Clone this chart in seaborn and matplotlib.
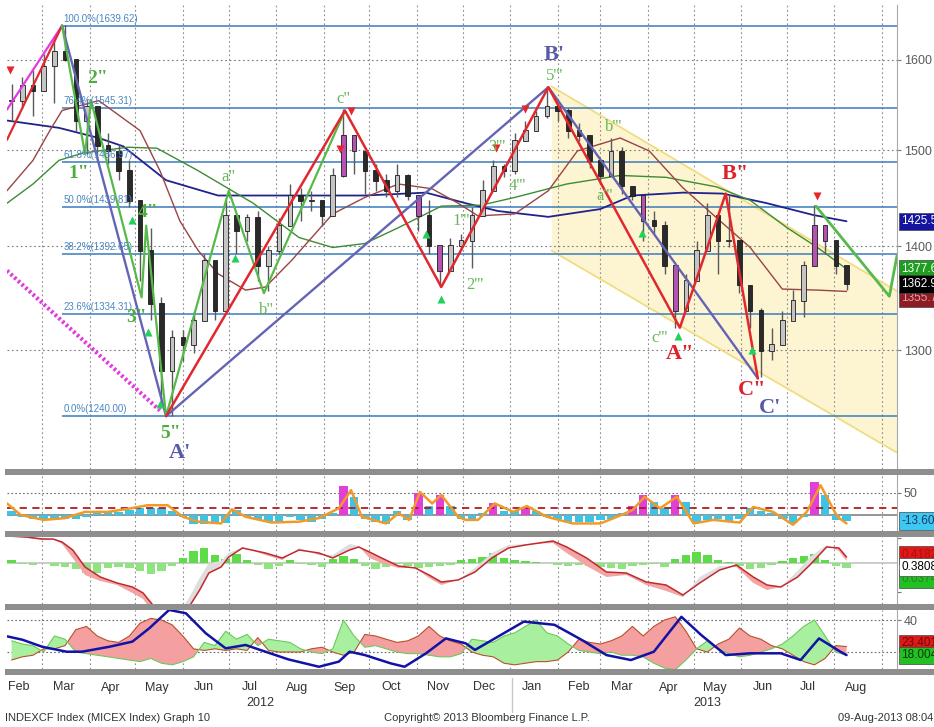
import matplotlib
matplotlib.use("Agg")
import numpy as np
import pandas as pd
import matplotlib.pyplot as plt
from matplotlib.patches import Rectangle
from matplotlib.ticker import NullLocator, NullFormatter
import seaborn as sns

sns.set_style("white")
plt.rcParams["font.family"] = ["Liberation Sans Narrow", "Liberation Sans", "DejaVu Sans"]
SERIF = ["Liberation Serif", "DejaVu Serif"]

### Data ###
week_dates = pd.date_range("2012-02-10", "2013-08-09", freq="W-FRI")

px_high = [1573, 1580, 1588, 1607, 1622, 1640, 1568, 1556, 1548, 1518,
           1507, 1489, 1444, 1419, 1350, 1319, 1319, 1337, 1393, 1366,
           1447, 1433, 1433, 1436, 1400, 1429, 1464, 1460, 1457, 1444,
           1481, 1545, 1513, 1489, 1485, 1475, 1485, 1475, 1444, 1447,
           1399, 1409, 1413, 1440, 1468, 1489, 1485, 1518, 1532, 1543,
           1569, 1550, 1546, 1529, 1513, 1489, 1513, 1503, 1460, 1440,
           1436, 1426, 1369, 1373, 1406, 1444, 1419, 1454, 1396, 1357,
           1340, 1321, 1337, 1357, 1386, 1442, 1419, 1406, 1376]
px_low = [1532, 1546, 1537, 1573, 1551, 1599, 1521, 1496, 1489, 1485,
          1468, 1440, 1366, 1328, 1248, 1240, 1290, 1297, 1363, 1328,
          1347, 1393, 1406, 1366, 1356, 1393, 1440, 1426, 1436, 1421,
          1454, 1471, 1475, 1454, 1457, 1450, 1450, 1447, 1416, 1393,
          1360, 1393, 1396, 1379, 1440, 1468, 1471, 1475, 1510, 1524,
          1535, 1532, 1513, 1510, 1481, 1464, 1489, 1454, 1447, 1406,
          1413, 1373, 1321, 1337, 1373, 1413, 1373, 1399, 1354, 1321,
          1275, 1291, 1306, 1335, 1331, 1399, 1393, 1373, 1357]
px_close = [1554, 1571, 1565, 1593, 1610, 1600, 1532, 1548, 1505, 1499,
            1478, 1447, 1396, 1344, 1281, 1312, 1305, 1328, 1386, 1337,
            1431, 1416, 1429, 1381, 1396, 1421, 1452, 1447, 1447, 1431,
            1473, 1516, 1499, 1478, 1468, 1457, 1473, 1452, 1431, 1401,
            1376, 1401, 1406, 1431, 1457, 1483, 1478, 1510, 1521, 1537,
            1548, 1543, 1521, 1516, 1489, 1473, 1499, 1462, 1452, 1426,
            1421, 1381, 1337, 1366, 1396, 1431, 1406, 1406, 1362, 1337,
            1300, 1305, 1328, 1347, 1381, 1421, 1406, 1381, 1362.96]

ma200_dates = ["2012-02-07", "2012-03-12", "2012-04-07", "2012-04-23", "2012-05-21",
               "2012-06-24", "2012-08-16", "2012-09-28", "2012-11-07", "2012-12-03",
               "2012-12-24", "2013-01-26", "2013-03-01", "2013-03-22", "2013-04-24",
               "2013-05-20", "2013-06-18", "2013-07-18", "2013-08-09"]
ma200 = [1532, 1524, 1513, 1504, 1468, 1452, 1452, 1452, 1455, 1444,
         1436, 1430, 1438, 1452, 1455, 1454, 1444, 1432, 1425.5]

ma100_dates = ["2012-02-07", "2012-02-24", "2012-03-12", "2012-03-28", "2012-04-26",
               "2012-05-15", "2012-06-11", "2012-07-17", "2012-08-16", "2012-09-07",
               "2012-09-28", "2012-10-20", "2012-11-17", "2012-12-13", "2013-01-04",
               "2013-02-07", "2013-03-14", "2013-04-13", "2013-05-16", "2013-06-07",
               "2013-07-01", "2013-07-21", "2013-08-09"]
ma100 = [1444, 1464, 1489, 1497, 1503, 1502, 1478, 1444, 1409, 1399, 1403, 1419,
         1441, 1442, 1450, 1464, 1473, 1471, 1461, 1447, 1419, 1399, 1377.66]

ma50_dates = ["2012-02-07", "2012-02-24", "2012-03-06", "2012-03-14", "2012-04-07",
              "2012-05-04", "2012-05-17", "2012-05-30", "2012-06-11", "2012-06-24",
              "2012-07-12", "2012-07-25", "2012-08-11", "2012-08-30", "2012-09-07",
              "2012-09-28", "2012-10-20", "2012-11-11", "2012-11-28", "2012-12-11",
              "2013-01-04", "2013-01-26", "2013-02-14", "2013-03-14", "2013-04-02",
              "2013-04-24", "2013-05-16", "2013-06-07", "2013-06-28", "2013-07-21",
              "2013-08-09"]
ma50 = [1457, 1489, 1521, 1543, 1554, 1521, 1478, 1426, 1396, 1373, 1357, 1360,
        1386, 1419, 1433, 1450, 1464, 1459, 1444, 1431, 1433, 1457, 1499, 1513,
        1499, 1460, 1429, 1399, 1358, 1357, 1355.7]

fib_pcts = ["100.0%", "76.4%", "61.8%", "50.0%", "38.2%", "23.6%", "0.0%"]
fib_levels = [1639.62, 1545.31, 1486.97, 1439.81, 1392.65, 1334.31, 1240.00]
fib_start = "2012-03-14"

channel_dates = ["2013-01-28", "2013-09-11"]
channel_top = [1570, 1356]
channel_bottom = [1396, 1208]

purple_dates = ["2012-03-14", "2012-05-21", "2013-01-26", "2013-06-12"]
purple_vals = [1639.62, 1240.0, 1569, 1274]
red_dates = ["2012-05-21", "2012-09-15", "2012-11-17", "2013-01-26",
             "2013-04-22", "2013-05-22", "2013-06-12"]
red_vals = [1240.0, 1543, 1360, 1569, 1321, 1454, 1274]
red_lead_dates = ["2012-02-07", "2012-03-14"]
red_lead_vals = [1511, 1639.62]
pink_lead_vals = [1544, 1639.62]
green_dates = ["2012-03-14", "2012-03-29", "2012-04-02", "2012-05-05", "2012-05-08",
               "2012-05-21", "2012-07-01", "2012-07-24", "2012-09-15"]
green_vals = [1639.62, 1496, 1554, 1350, 1421, 1240.0, 1457, 1354, 1543]
proj_dates = ["2013-07-20", "2013-09-06", "2013-09-11"]
proj_vals = [1441, 1351, 1391]
dotted_dates = ["2012-02-07", "2012-05-17"]
dotted_vals = [1376, 1245]

sell_dates = ["2012-02-09", "2012-09-12", "2012-09-19", "2012-12-23", "2013-01-11", "2013-07-21"]
sell_vals = [1588, 1501, 1542, 1502, 1545, 1452]
buy_dates = ["2012-04-29", "2012-05-09", "2012-05-17", "2012-07-05", "2012-11-07",
             "2012-11-17", "2013-03-28", "2013-04-21", "2013-06-08"]
buy_vals = [1427, 1317, 1251, 1389, 1413, 1348, 1414, 1313, 1300]

wave_text = ["B'", "A'", "C'", 'A"', 'B"', 'C"', '1"', '2"', '3"', '4"', '5"',
             'a"', 'b"', 'c"', "1'''", "2'''", "3'''", "4'''", "5'''", "a'''", "b'''", "c'''"]
wave_text_dates = ["2013-01-30", "2012-05-30", "2013-06-20", "2013-04-22", "2013-05-28",
                   "2013-06-08", "2012-03-25", "2012-04-06", "2012-05-02", "2012-05-09",
                   "2012-05-24", "2012-07-01", "2012-07-26", "2012-09-14", "2012-11-30",
                   "2012-12-09", "2012-12-23", "2013-01-06", "2013-01-30", "2013-03-04",
                   "2013-03-10", "2013-04-09"]
wave_text_vals = [1605, 1208, 1247, 1296, 1475, 1263, 1475, 1579, 1331, 1434, 1225,
                  1471, 1338, 1556, 1426, 1362, 1503, 1462, 1582, 1452, 1525, 1311]
wave_text_kind = ["primary"] * 3 + ["inter"] * 3 + ["minor"] * 5 + ["minute"] * 11

osc = [10, -5, -8, -10, -12, -10, -8, -5, 7, 6,
       6, 12, 16, 15, 16, 10, -5, -20, -20, -20,
       -18, 12, -5, -8, -15, -15, -5, -12, -15, -10,
       5, 65, 40, -10, -15, -20, 10, -12, 50, 20,
       45, 20, -10, -8, 5, 28, 10, 8, 18, 10,
       -5, -10, -15, -15, -15, -12, -8, 5, 20, 45,
       30, 15, 45, 30, -15, -12, -10, -15, -10, 15,
       8, 5, -10, -18, -5, 75, 45, -12, -13.609]
osc_sig_dates = ["2012-02-07", "2012-02-16", "2012-03-02", "2012-03-16", "2012-03-29",
                 "2012-04-13", "2012-04-28", "2012-05-09", "2012-05-22", "2012-06-01",
                 "2012-06-11", "2012-06-26", "2012-07-03", "2012-07-12", "2012-07-29",
                 "2012-08-16", "2012-08-29", "2012-09-11", "2012-09-19", "2012-09-26",
                 "2012-10-12", "2012-10-20", "2012-10-27", "2012-11-03", "2012-11-11",
                 "2012-11-17", "2012-11-28", "2012-12-03", "2012-12-11", "2012-12-22",
                 "2013-01-03", "2013-01-12", "2013-01-25", "2013-02-11", "2013-03-01",
                 "2013-03-12", "2013-03-22", "2013-03-30", "2013-04-09", "2013-04-20",
                 "2013-05-01", "2013-05-14", "2013-05-31", "2013-06-09", "2013-06-22",
                 "2013-07-05", "2013-07-14", "2013-07-23", "2013-08-03", "2013-08-09"]
osc_sig = [26, 0, -11, -7, 7, 7, 15, 22, 22, -4,
           -15, -19, 13, -4, -17, -15, -7, 15, 56, -4,
           -19, 4, -11, 52, 26, 45, -4, -11, -11, 26,
           7, 20, -4, -19, -19, -4, 11, 41, 15, 41,
           -19, -11, -17, 18, 7, -22, 7, 67, -4, -19]

macd_hist = [3, -1, -2, 0, -3, -4, -6, -10, -10, -5,
             -4, -5, -8, -11, -8, -3, 5, 12, 15, 8,
             4, 9, 3, -2, -6, -3, 3, -1, -2, -4,
             4, 7, 4, -3, -6, -4, -1, -3, -5, -4,
             -3, -2, 3, 4, 6, 10, 5, 3, 2, 1,
             0, -2, -3, -2, -3, -4, -5, -6, -3, -2,
             -1, -4, 4, 8, 11, 8, 3, 1, -3, -6,
             -5, -2, 2, 5, 7, 9, 3, -3, -5]
macd_dates = ["2012-02-07", "2012-02-20", "2012-03-01", "2012-03-08", "2012-03-14",
              "2012-03-21", "2012-03-29", "2012-04-08", "2012-04-19", "2012-04-29",
              "2012-05-06", "2012-05-15", "2012-05-25", "2012-06-05", "2012-06-12",
              "2012-06-18", "2012-06-26", "2012-07-01", "2012-07-10", "2012-07-25",
              "2012-08-05", "2012-08-16", "2012-08-29", "2012-09-07", "2012-09-18",
              "2012-09-24", "2012-10-01", "2012-10-09", "2012-10-20", "2012-10-31",
              "2012-11-09", "2012-11-17", "2012-11-28", "2012-12-09", "2012-12-20",
              "2012-12-31", "2013-01-11", "2013-01-29", "2013-02-07", "2013-02-20",
              "2013-03-05", "2013-03-18", "2013-03-31", "2013-04-13", "2013-04-24",
              "2013-05-05", "2013-05-18", "2013-05-29", "2013-06-09", "2013-06-18",
              "2013-06-27", "2013-07-08", "2013-07-16", "2013-07-27", "2013-08-04",
              "2013-08-09"]
macd_line = [27, 26, 24, 24, 21, 13, -4, -14, -20, -24,
             -30, -47, -60, -44, -27, -10, -4, 6, 15, 10,
             5, 13, 10, 5, 13, 16, 11, 5, -3, -5,
             -12, -19, -17, -9, 5, 15, 18, 22, 16, 5,
             -9, -10, -19, -22, -32, -20, -7, -2, -14, -22,
             -24, -14, -2, 16, 15, 6]
macd_fast = [27, 25, 23, 24, 19, 5, -12, -18, -22, -30,
             -36, -55, -60, -35, -15, 0, 2, 10, 16, 8,
             3, 15, 8, 8, 19, 17, 5, 0, -5, -5,
             -15, -22, -17, -5, 10, 18, 19, 20, 10, -3,
             -14, -12, -22, -28, -34, -14, -3, -4, -20, -27,
             -24, -8, 6, 18, 12, 2]

plus_di = [27, 25, 24, 20, 30, 28, 20, 19, 18, 17,
           16, 15, 14, 16, 13, 12, 14, 17, 26, 24,
           33, 28, 31, 24, 28, 27, 26, 22, 20, 19,
           22, 40, 30, 23, 24, 22, 20, 19, 19, 18,
           17, 17, 19, 28, 27, 26, 30, 32, 36, 40,
           32, 30, 25, 21, 20, 19, 20, 18, 18, 17,
           13, 10, 9, 15, 22, 27, 22, 19, 17, 18,
           20, 22, 25, 30, 36, 40, 30, 20, 18.004]
minus_di = [15, 17, 18, 22, 22, 24, 34, 36, 30, 27,
            26, 30, 38, 41, 40, 37, 30, 22, 21, 22,
            21, 22, 21, 29, 21, 20, 20, 20, 22, 23,
            20, 18, 20, 31, 30, 28, 26, 27, 30, 36,
            30, 27, 25, 20, 18, 17, 13, 12, 13, 14,
            14, 15, 20, 28, 26, 25, 27, 30, 36, 30,
            36, 40, 42, 33, 22, 20, 25, 28, 35, 30,
            28, 24, 22, 18, 14, 12, 16, 24, 23.401]
adx_dates = ["2012-02-07", "2012-02-17", "2012-03-01", "2012-03-17", "2012-03-27",
             "2012-04-14", "2012-04-29", "2012-05-10", "2012-05-23", "2012-06-03",
             "2012-06-16", "2012-06-29", "2012-07-12", "2012-07-25", "2012-08-09",
             "2012-08-29", "2012-09-11", "2012-09-18", "2012-09-28", "2012-10-15",
             "2012-10-24", "2012-11-07", "2012-11-20", "2012-12-03", "2012-12-09",
             "2013-01-10", "2013-01-30", "2013-02-17", "2013-03-05", "2013-03-21",
             "2013-04-05", "2013-04-23", "2013-05-06", "2013-05-22", "2013-06-07",
             "2013-06-27", "2013-07-10", "2013-07-22", "2013-08-05", "2013-08-09"]
adx = [29.8, 27.7, 23.3, 20.2, 20.2, 23.3, 26.5, 34.8, 46.3, 44.2,
       31.7, 22.3, 24.4, 20.2, 15.4, 10.8, 14, 20.2, 18.1, 12.9,
       10.8, 19.2, 28.5, 25.4, 21.3, 39, 37, 27.5, 18.1, 15,
       20.2, 42, 30.6, 18.1, 19.2, 19.2, 15, 28.5, 20.2, 18.1]

### Layout ###
W, H = 934, 727
fig = plt.figure(figsize=(W / 100, H / 100), dpi=100)
fig.patch.set_facecolor("white")


def panel(top, bottom, **kw):
    return fig.add_axes([7 / W, 1 - bottom / H, 890 / W, (bottom - top) / H], **kw)


ax = panel(5, 469)
ax2 = panel(475, 531, sharex=ax)
ax3 = panel(537, 604, sharex=ax)
ax4 = panel(610, 669, sharex=ax)
axes = [ax, ax2, ax3, ax4]

for top, bottom in [(469, 475), (531, 537), (604, 610), (669, 675)]:
    fig.add_artist(Rectangle((5 / W, 1 - bottom / H), 1, (bottom - top) / H,
                             transform=fig.transFigure, color="#8e8e8e", lw=0))

month_starts = pd.date_range("2012-03-01", "2013-09-01", freq="MS")
for a in axes:
    for d in month_starts:
        a.axvline(d, color="#8a8a8a", lw=0.8, ls=(0, (1.5, 2.5)), zorder=0.6)
    for s in ["top", "left", "bottom"]:
        a.spines[s].set_visible(False)
    a.spines["right"].set_color("#a8a8a8")

### Main price panel ###
ax.set_yscale("log")
cd = pd.to_datetime(channel_dates)
ax.fill_between(cd, channel_bottom, channel_top, color="#fdf4d2", lw=0, zorder=0.2)
ax.plot(cd, channel_top, color="#f2dc82", lw=1.3, zorder=0.7)
ax.plot(cd, channel_bottom, color="#f2dc82", lw=1.3, zorder=0.7)
for v in [1300, 1400, 1500, 1600]:
    ax.axhline(v, color="#7a7a7a", lw=0.8, ls=(0, (1.5, 2.5)), zorder=0.6)

xmax = pd.Timestamp("2013-09-11")
ax.hlines(fib_levels, pd.Timestamp(fib_start), xmax, color="#3b7bbd", lw=1.1, zorder=1)
for p, lv in zip(fib_pcts, fib_levels):
    ax.annotate(f"{p}({lv:.2f})", xy=(pd.Timestamp(fib_start), lv), xytext=(1, 1.5),
                textcoords="offset points", fontsize=7, color="#4a86c0",
                ha="left", va="bottom", zorder=7)

sns.lineplot(x=pd.to_datetime(ma200_dates), y=ma200, ax=ax, color="#22228c", linewidth=1.3, zorder=2)
sns.lineplot(x=pd.to_datetime(ma100_dates), y=ma100, ax=ax, color="#3c8c34", linewidth=1.0, zorder=2)
sns.lineplot(x=pd.to_datetime(ma50_dates), y=ma50, ax=ax, color="#9a4444", linewidth=1.0, zorder=2)

opens = np.array([px_close[0]] + px_close[:-1])
closes = np.array(px_close)
highs = np.maximum.reduce([np.array(px_high), opens, closes])
lows = np.minimum.reduce([np.array(px_low), opens, closes])
ax.vlines(week_dates, lows, highs, color="#5a5a5a", lw=1.0, zorder=3)
body_col = ["#b452b4" if o >= 40 else ("#c4c4c4" if c >= op else "#2a2a2a")
            for o, c, op in zip(osc, closes, opens)]
ax.bar(week_dates, np.abs(closes - opens) + 0.8, bottom=np.minimum(opens, closes) - 0.4,
       width=3.0, color=body_col, edgecolor="#1c1c1c", linewidth=0.6, zorder=3.5)

ax.plot(pd.to_datetime(dotted_dates), dotted_vals, color="#e23ae0", lw=3, ls=(0, (0.6, 0.6)), zorder=4)
ax.plot(pd.to_datetime(red_lead_dates), pink_lead_vals, color="#e23ae0", lw=1.6, zorder=4)
ax.plot(pd.to_datetime(red_lead_dates), red_lead_vals, color="#e0282e", lw=1.6, zorder=4)
ax.plot(pd.to_datetime(purple_dates), purple_vals, color="#6464b4", lw=1.7, zorder=4)
ax.plot(pd.to_datetime(green_dates), green_vals, color="#56b94a", lw=1.6, zorder=4.2)
ax.plot(pd.to_datetime(red_dates), red_vals, color="#e0282e", lw=1.8, zorder=4.4)
ax.plot(pd.to_datetime(proj_dates), proj_vals, color="#56b94a", lw=2.0, zorder=4.2)

ax.scatter(pd.to_datetime(sell_dates), sell_vals, marker="v", s=34, color="#e8262a", lw=0, zorder=6)
ax.scatter(pd.to_datetime(buy_dates), buy_vals, marker="^", s=34, color="#22d05a", lw=0, zorder=6)

label_style = {
    "primary": dict(color="#5a5aaa", fontsize=16, fontweight="bold"),
    "inter": dict(color="#e0202a", fontsize=16, fontweight="bold"),
    "minor": dict(color="#4cae3c", fontsize=14, fontweight="bold"),
    "minute": dict(color="#66b85a", fontsize=12, fontweight="normal"),
}
for t, d, v, k in zip(wave_text, wave_text_dates, wave_text_vals, wave_text_kind):
    ax.text(pd.Timestamp(d), v, t, ha="center", va="center", family=SERIF,
            zorder=7, **label_style[k])

ax.set_ylim(1194, 1664)
ax.yaxis.tick_right()
ax.set_yticks([1300, 1400, 1500, 1600])
ax.set_yticklabels(["1300", "1400", "1500", "1600"])
ax.yaxis.set_minor_locator(NullLocator())
ax.yaxis.set_minor_formatter(NullFormatter())


def tag(a, y, text, fc, tc, dy=0):
    a.annotate(text, xy=(1.0, y), xycoords=a.get_yaxis_transform(), xytext=(3, dy),
               textcoords="offset points", ha="left", va="center", fontsize=8.5, color=tc,
               bbox=dict(boxstyle="square,pad=0.22", fc=fc, ec="#444444", lw=0.5),
               annotation_clip=False, zorder=10)


tag(ax, 1425.5, "1425.50", "#1414a0", "white")
tag(ax, 1377.66, "1377.66", "#1e9e1e", "white")
tag(ax, 1355.7, "1355.70", "#8e1c24", "#e0a0a0", dy=-5)
tag(ax, 1362.96, "1362.96", "black", "white")

### Oscillator panel ###
bar_col = []
prev = osc[0]
for o in osc:
    bar_col.append("#e23ed8" if (o > 16 and o >= prev) else "#3cc3e8")
    prev = o
ax2.bar(week_dates, osc, width=5.5, color=bar_col, lw=0, zorder=2)
ax2.axhline(0, color="#8c8c8c", lw=1.3, zorder=1.5)
ax2.axhline(16, color="#b01c1c", lw=1.3, ls=(0, (4, 3)), zorder=3)
ax2.axhline(50, color="#6a6a6a", lw=0.8, ls=(0, (1.5, 2)), zorder=1)
sns.lineplot(x=pd.to_datetime(osc_sig_dates), y=osc_sig, ax=ax2, color="#f09a28", linewidth=1.8, zorder=4)
ax2.set_ylim(-36, 90)
ax2.yaxis.tick_right()
ax2.set_yticks([50])
ax2.set_yticklabels(["50"])
tag(ax2, -13.609, "-13.609", "#3cc8f0", "#1a3a6a")

### MACD panel ###
md = pd.to_datetime(macd_dates)
ml = np.array(macd_line, dtype=float)
mf = np.array(macd_fast, dtype=float)
ax3.bar(week_dates, macd_hist, width=5.5,
        color=["#5edc48" if h >= 0 else "#8ee47e" for h in macd_hist], lw=0, zorder=2)
ax3.axhline(0, color="#c4c4c4", lw=1.2, zorder=1.5)
ax3.fill_between(md, ml, mf, where=mf < ml, interpolate=True, color="#f3a4a4", lw=0, zorder=2.5)
ax3.fill_between(md, ml, mf, where=mf >= ml, interpolate=True, color="#dedede", lw=0, zorder=2.5)
sns.lineplot(x=md, y=ml, ax=ax3, color="#bf2a2e", linewidth=1.1, zorder=3)
ax3.set_ylim(-41, 26)
ax3.yaxis.tick_right()
ax3.set_yticks([25, -29])
ax3.set_yticklabels(["", ""])
tag(ax3, 8, "0.4182", "#e01818", "#b01010")
tag(ax3, -16, "0.0374", "#22c022", "#1a8a1a")
tag(ax3, -4, "0.3808", "white", "black")

### DMI panel ###
pdi = np.array(plus_di, dtype=float)
mdi = np.array(minus_di, dtype=float)
ax4.fill_between(week_dates, pdi, mdi, where=mdi >= pdi, interpolate=True, color="#f4a0a0", lw=0, zorder=2)
ax4.fill_between(week_dates, pdi, mdi, where=pdi > mdi, interpolate=True, color="#a8f0a0", lw=0, zorder=2)
ax4.plot(week_dates, mdi, color="#b8502a", lw=0.8, zorder=3)
ax4.plot(week_dates, pdi, color="#6cc85c", lw=0.8, zorder=3)
ax4.axhline(40, color="#6a6a6a", lw=0.8, ls=(0, (1.5, 2)), zorder=1)
ax4.axhline(20, color="#6a6a6a", lw=0.8, ls=(0, (1.5, 2)), zorder=1)
sns.lineplot(x=pd.to_datetime(adx_dates), y=adx, ax=ax4, color="#1212a6", linewidth=1.8, zorder=4)
ax4.set_ylim(9.4, 46.25)
ax4.yaxis.tick_right()
ax4.set_yticks([40])
ax4.set_yticklabels(["40"])
tag(ax4, 25.5, "23.401", "#e01818", "#6a0a0a")
tag(ax4, 18.0, "18.004", "#22c022", "#0a3a0a")

### Axes cosmetics ###
for a in axes:
    a.set_xlabel("")
    a.set_ylabel("")
    a.tick_params(axis="y", which="major", labelsize=9, labelcolor="#5a5a5a",
                  length=3, color="#777777", pad=2, direction="out")

ax.set_xlim(pd.Timestamp("2012-02-07"), xmax)
mid_months = [d + pd.Timedelta(days=14) for d in pd.date_range("2012-02-01", "2013-08-01", freq="MS")]
ax4.set_xticks(mid_months)
ax4.set_xticklabels([d.strftime("%b") for d in mid_months])
for a in [ax, ax2, ax3]:
    a.tick_params(axis="x", labelbottom=False, length=0)
ax4.tick_params(axis="x", length=0, pad=9, labelsize=9, labelcolor="#333333")

fig.text(260 / W, 1 - 703 / H, "2012", ha="center", va="center", fontsize=9, color="#333333")
fig.text(707 / W, 1 - 703 / H, "2013", ha="center", va="center", fontsize=9, color="#333333")
fig.add_artist(plt.Line2D([512 / W, 512 / W], [1 - 678 / H, 1 - 712 / H],
                          transform=fig.transFigure, color="#c8c8c8", lw=1))

fig.text(5 / W, 1 - 718 / H, "INDEXCF Index (MICEX Index) Graph 10", ha="left", va="center",
         fontsize=8, color="#333333")
fig.text(487 / W, 1 - 718 / H, "Copyright\u00a9 2013 Bloomberg Finance L.P.", ha="center",
         va="center", fontsize=8, color="#333333")
fig.text(838 / W, 1 - 718 / H, "09-Aug-2013 08:04:59", ha="left", va="center",
         fontsize=8, color="#333333")

fig.savefig("out.png", dpi=100, facecolor="white")
